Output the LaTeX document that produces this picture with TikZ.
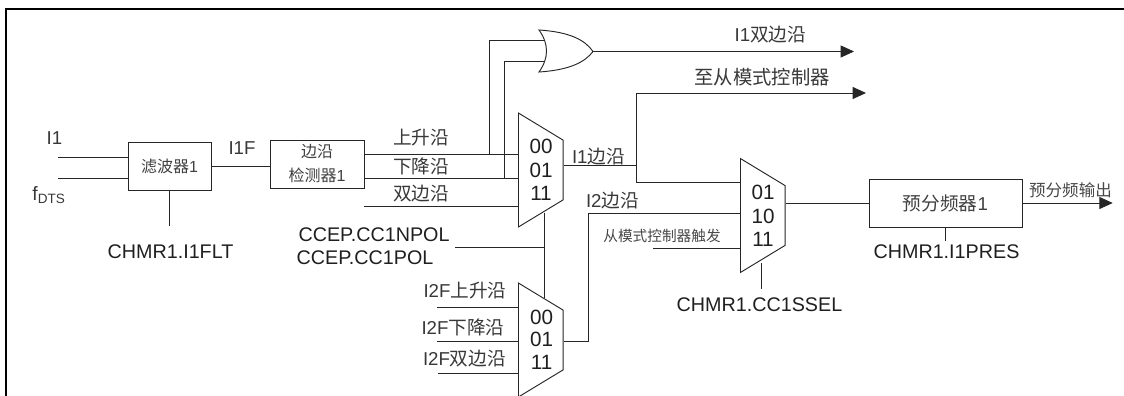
\documentclass[tikz,border=0pt]{standalone}
\usepackage{fontspec}
\setmainfont{Liberation Sans}
\newfontfamily\cjk{Noto Sans CJK SC}
\usetikzlibrary{arrows.meta,shapes.geometric}
\newcommand{\zh}[1]{{\cjk #1}}
\tikzset{
  x=0.75pt,y=-0.75pt,
  wire/.style={draw=black!85,line width=0.65pt},
  frameline/.style={draw=black,line width=1.5pt},
  gate/.style={draw=black!85,line width=0.7pt,fill=white},
  boxn/.style={draw=black!85,line width=0.7pt,inner sep=0pt,align=center,text=black!75},
  muxn/.style={gate,trapezium,trapezium left angle=60,trapezium right angle=60,shape border rotate=270,trapezium stretches=true,inner sep=0pt,minimum width=85.5pt,minimum height=33.5pt},
  lab/.style={inner sep=0pt,text=black!78,font=\fontsize{14pt}{16pt}\selectfont},
  labs/.style={inner sep=0pt,text=black!72,font=\fontsize{12.4pt}{14pt}\selectfont},
  code/.style={inner sep=0pt,text=black!88,font=\fontsize{14.8pt}{16pt}\selectfont},
  digit/.style={inner sep=0pt,text=black!88,font=\fontsize{15.5pt}{16pt}\selectfont},
  arr/.style={wire,-{Triangle[length=10pt,width=9pt]}}
}
\begin{document}
\begin{tikzpicture}
\useasboundingbox (0,0) rectangle (1124,396);
\coordinate (fbl) at (6,396);
\coordinate (ftl) at (6,9);
\coordinate (ftr) at (1124,9);
\draw[frameline] (fbl) -- (ftl) -- (ftr);
% boxes
\node[boxn,font=\fontsize{12pt}{14pt}\selectfont,minimum width=62.25pt,minimum height=36pt] (filt) at (169.5,166) {\zh{滤波器}1};
\node[boxn,font=\fontsize{12pt}{18pt}\selectfont,minimum width=70.5pt,minimum height=36pt] (edge) at (317,164) {\zh{边沿}\\\zh{检测器}1};
\node[boxn,font=\fontsize{14pt}{16pt}\selectfont,minimum width=114.75pt,minimum height=36pt] (pre) at (945.5,203) {\zh{预分频器}1};
% muxes
\node[muxn] (m1) at (540.8,170) {\phantom{0}};
\node[muxn] (m2) at (540.8,340) {\phantom{0}};
\node[muxn] (m3) at (762.8,215.5) {\phantom{0}};
% mux digits
\node[digit] (m1x) at (541,146) {00};
\node[digit] (m1y) at (541,170) {01};
\node[digit] (m1z) at (541,193) {11};
\node[digit] (m2x) at (541.7,317) {00};
\node[digit] (m2y) at (541.7,339) {01};
\node[digit] (m2z) at (541.7,362) {11};
\node[digit] (m3x) at (763,192) {01};
\node[digit] (m3y) at (763,216) {10};
\node[digit] (m3z) at (763,239) {11};
% filter wiring
\coordinate (i1s) at (58,157.5);
\coordinate (f1s) at (58,178);
\coordinate (fd) at (169.5,226);
\draw[wire] (i1s) -- (i1s -| filt.west);
\draw[wire] (f1s) -- (f1s -| filt.west);
\draw[wire] (filt.east) -- (filt.east -| edge.west);
\draw[wire] (filt.south) -- (fd);
% edge outputs
\coordinate (yu) at (0,154);
\coordinate (yd) at (0,178);
\draw[wire] (edge.east |- yu) -- (yu -| m1.west);
\draw[wire] (edge.east |- yd) -- (yd -| m1.west);
\coordinate (dbl) at (364,206);
\draw[wire] (dbl) -- (dbl -| m1.west);
% or gate
\coordinate (orin1) at (545,40.7);
\coordinate (orin2) at (545,61.3);
\coordinate (orc1) at (539,30);
\coordinate (orc2) at (539,72);
\coordinate (ort) at (593,51.5);
\coordinate (orout) at (854,51.5);
\draw[gate] (orc1) .. controls (570,32) and (585,40) .. (ort) .. controls (585,62) and (570,70) .. (orc2) .. controls (549,58) and (549,44) .. (orc1) -- cycle;
\coordinate (u1) at (489.7,154);
\coordinate (d1) at (504.3,178);
\draw[wire] (u1) |- (orin1);
\draw[wire] (d1) |- (orin2);
\draw[arr] (ort) -- (orout);
% I1 edge
\coordinate (jn) at (636,165);
\coordinate (tosout) at (866,93);
\coordinate (i1in) at (740.5,182.4);
\coordinate (i2in) at (740.5,213.8);
\coordinate (trin) at (740.5,248);
\coordinate (trs) at (653,248);
\draw[wire] (m1.east |- jn) -- (jn);
\draw[arr] (jn) |- (tosout);
\draw[wire] (jn) |- (i1in);
% I2 edge
\coordinate (i2v) at (588.5,341);
\draw[wire] (m2.east |- i2v) -- (i2v) |- (i2in);
\draw[wire] (trs) -- (trin);
% mux 2 inputs
\coordinate (w1) at (437,307);
\coordinate (w2) at (437,341.7);
\coordinate (w3) at (438,373.7);
\draw[wire] (w1) -- (w1 -| m2.west);
\draw[wire] (w2) -- (w2 -| m2.west);
\draw[wire] (w3) -- (w3 -| m2.west);
% select
\coordinate (sa) at (544.4,212.5);
\coordinate (sb) at (544.4,298);
\coordinate (cc) at (455,247);
\draw[wire] (sa) -- (sb);
\draw[wire] (cc) -- (cc -| sa);
\coordinate (ssa) at (761,263);
\coordinate (ssel) at (761,289);
\draw[wire] (ssa) -- (ssel);
% prescaler
\coordinate (po) at (1112.7,203);
\coordinate (pres) at (945.5,241);
\draw[wire] (m3.east |- pre.west) -- (pre.west);
\draw[arr] (pre.east) -- (po);
\draw[wire] (pre.south) -- (pres);
% labels
\node[lab] (i1) at (54.5,138) {I1};
\node[lab,font=\fontsize{14.5pt}{16pt}\selectfont] (fdts) at (49,195) {f\textsubscript{DTS}};
\node[lab] (i1f) at (242,148) {I1F};
\node[code] (flt) at (170.5,252) {CHMR1.I1FLT};
\node[lab] (up) at (421,138) {\zh{上升沿}};
\node[lab] (dn) at (421,166) {\zh{下降沿}};
\node[lab] (bo) at (421,194) {\zh{双边沿}};
\node[lab] (i1b) at (770.5,35) {I1\zh{双边沿}};
\node[lab,font=\fontsize{14.5pt}{16pt}\selectfont] (tos) at (762,77) {\zh{至从模式控制器}};
\node[lab] (i1e) at (598.5,157) {I1\zh{边沿}};
\node[lab] (i2e) at (612.5,201) {I2\zh{边沿}};
\node[lab] (u2) at (465,291) {I2F\zh{上升沿}};
\node[lab] (d2) at (463,327) {I2F\zh{下降沿}};
\node[lab] (b2) at (464.5,359) {I2F\zh{双边沿}};
\node[code] (cn) at (374,235) {CCEP.CC1NPOL};
\node[code] (cp) at (365,258) {CCEP.CC1POL};
\node[labs,font=\fontsize{11pt}{13pt}\selectfont] (tr) at (662,236) {\zh{从模式控制器触发}};
\node[code] (ss) at (759.5,305) {CHMR1.CC1SSEL};
\node[labs] (pol) at (1070.5,190) {\zh{预分频输出}};
\node[code] (pr) at (946.5,252) {CHMR1.I1PRES};
\end{tikzpicture}
\end{document}
